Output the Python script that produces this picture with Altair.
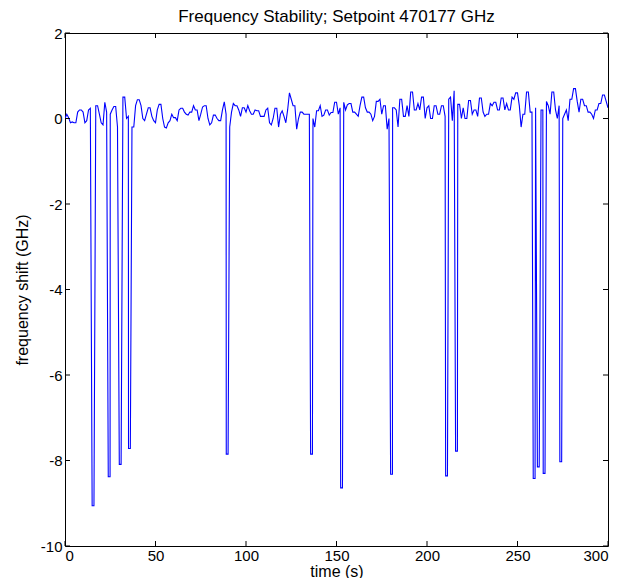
import altair as alt
import pandas as pd

# noise samples at even seconds, t = 0 .. 300
even_t = list(range(0, 301, 2))
even_v = [
    0.0, 0.02, -0.08, -0.1, 0.2, 0.15, -0.05, 0.24, 0.0, 0.3,
    -0.1, 0.38, -0.05, 0.2, 0.28, -0.3, 0.5, 0.0, -0.05, -0.2,
    0.44, 0.3, -0.05, 0.25, 0.05, -0.1, 0.33, 0.0, -0.22, -0.05, 0.02,
    -0.05, 0.24, 0.15, 0.08, 0.15, 0.2, -0.05, 0.27, 0.3, -0.15,
    0.08, 0.0, -0.05, 0.39, -0.3, 0.15, 0.3, 0.2, 0.25, 0.15,
    0.18, 0.1, 0.18, 0.05, 0.05, 0.24, -0.15, 0.24, -0.2, 0.18,
    -0.1, 0.6, 0.3, -0.25, 0.15, 0.1, 0.1, 0.35, -0.2, 0.18,
    0.05, 0.2, 0.08, 0.14, 0.38, 0.25, 0.38, 0.32, 0.35, 0.15,
    0.05, 0.5, 0.25, 0.15, -0.05, 0.4, 0.45, 0.3, -0.25, 0.2,
    0.25, -0.2, 0.45, 0.05, 0.05, 0.62, 0.2, 0.2, 0.5, 0.25,
    0.0, 0.3, 0.1, 0.3, 0.05, 0.45, -0.05, 0.65, 0.33, 0.25,
    0.0, 0.42, 0.2, 0.05, 0.48, 0.05, 0.1, 0.3, 0.38, 0.2,
    0.48, 0.35, 0.2, 0.45, 0.6, -0.2, 0.1, 0.62, 0.15, 0.25,
    0.4, 0.2, 0.4, 0.1, 0.62, 0.0, 0.3, 0.1, -0.05, 0.45,
    0.7, 0.15, 0.45, 0.3, 0.15, 0.0, 0.2, 0.35, 0.55, 0.25,
]

# noise samples at odd seconds, t = 1 .. 299
odd_t = list(range(1, 300, 2))
odd_v = [
    0.1, -0.1, -0.1, 0.15, 0.2, -0.1, 0.2, 0.24, 0.3, 0.1,
    -0.15, 0.15, 0.1, 0.28, -0.2, 0.45, 0.5, 0.05, -0.2, 0.3,
    0.44, 0.0, 0.1, 0.25, -0.05, 0.2, 0.33, -0.2, -0.1, 0.1,
    0.02, 0.2, 0.24, 0.1, 0.15, 0.3, 0.2, 0.1, 0.3, 0.0,
    -0.1, 0.08, -0.05, 0.2, 0.1, -0.2, 0.35, 0.3, 0.05, 0.25,
    0.3, 0.1, 0.2, 0.18, 0.05, 0.2, -0.1, 0.0, 0.24, 0.1,
    0.05, 0.2, 0.45, 0.3, 0.0, 0.15, 0.1, 0.1, 0.0, 0.18,
    0.3, 0.08, 0.2, 0.14, 0.38, 0.1, 0.38, 0.2, 0.35, 0.15,
    0.1, 0.3, 0.5, 0.15, 0.1, 0.05, 0.4, 0.1, 0.3, 0.0,
    0.25, 0.2, 0.45, 0.05, 0.3, 0.62, 0.2, 0.35, 0.5, 0.0,
    0.3, 0.0, 0.3, 0.1, 0.3, 0.45, 0.5, 0.65, 0.33, 0.0,
    0.0, 0.42, 0.1, 0.2, 0.48, 0.15, 0.1, 0.35, 0.38, 0.2,
    0.48, 0.2, 0.2, 0.5, 0.6, 0.3, 0.1, 0.62, 0.15, 0.4,
    0.4, 0.2, 0.4, 0.3, 0.62, 0.2, 0.3, 0.0, 0.2, 0.45,
    0.7, 0.4, 0.45, 0.3, 0.15, 0.1, 0.2, 0.35, 0.55, 0.4,
]

# sudden drop-outs: start time, end time (s) and depth (GHz)
dip_start = [15.0, 23.9, 30.0, 35.1, 89.1, 135.7, 152.3, 179.9, 210.3,
             215.8, 258.7, 261.0, 264.2, 273.4]
dip_end = [16.0, 24.9, 31.0, 36.1, 90.1, 136.7, 153.3, 180.9, 211.3,
           216.8, 259.7, 262.0, 265.2, 274.4]
dip_v = [-9.06, -8.38, -8.09, -7.72, -7.85, -7.85, -8.64, -8.32, -8.36,
         -7.78, -8.42, -8.15, -8.30, -8.03]

x_ticks = [0, 50, 100, 150, 200, 250, 300]
y_ticks = [-10, -8, -6, -4, -2, 0, 2]

noise = pd.concat([
    pd.DataFrame({"t": even_t, "v": even_v}),
    pd.DataFrame({"t": odd_t, "v": odd_v}),
])
# drop noise samples that fall inside a drop-out
inside = pd.Series(False, index=range(len(noise)))
noise = noise.reset_index(drop=True)
for s, e in zip(dip_start, dip_end):
    inside |= (noise["t"] >= s) & (noise["t"] <= e)
noise = noise[~inside]

df = pd.concat([
    noise,
    pd.DataFrame({"t": dip_start, "v": dip_v}),
    pd.DataFrame({"t": dip_end, "v": dip_v}),
]).sort_values("t", kind="stable").reset_index(drop=True)

W, H = 543, 513
FONT = "Liberation Sans"

xscale = alt.Scale(domain=[0, 300], nice=False, zero=False)
yscale = alt.Scale(domain=[-10, 2], nice=False, zero=False)

line = alt.Chart(df).mark_line(
    color="#0000ff", strokeWidth=1.1, clip=True
).encode(
    x=alt.X("t:Q", scale=xscale,
            axis=alt.Axis(values=x_ticks, grid=False, ticks=False, domain=False,
                          labelPadding=2, labelFontSize=15, labelFont=FONT,
                          labelColor="black", title="time (s)", titleFont=FONT,
                          titleFontSize=16, titleFontWeight="normal",
                          titleColor="black", titlePadding=0)),
    y=alt.Y("v:Q", scale=yscale,
            axis=alt.Axis(values=y_ticks, grid=False, ticks=False, domain=False,
                          labelPadding=3, labelFontSize=15, labelFont=FONT,
                          labelColor="black",
                          labelExpr="replace(datum.label, '\u2212', '-')",
                          title="frequency shift (GHz)", titleFont=FONT,
                          titleFontSize=16, titleFontWeight="normal",
                          titleColor="black", titlePadding=10)),
    order="t:Q",
)

xt = pd.DataFrame({"t": x_ticks})
yt = pd.DataFrame({"v": y_ticks})

xb = alt.Chart(xt).mark_rule(color="black", strokeWidth=1).encode(
    x=alt.X("t:Q", scale=xscale), y=alt.value(H), y2=alt.value(H - 5))
xtp = alt.Chart(xt).mark_rule(color="black", strokeWidth=1).encode(
    x=alt.X("t:Q", scale=xscale), y=alt.value(0), y2=alt.value(5))
yl = alt.Chart(yt).mark_rule(color="black", strokeWidth=1).encode(
    y=alt.Y("v:Q", scale=yscale), x=alt.value(0), x2=alt.value(5))
yr = alt.Chart(yt).mark_rule(color="black", strokeWidth=1).encode(
    y=alt.Y("v:Q", scale=yscale), x=alt.value(W), x2=alt.value(W - 5))

chart = alt.layer(line, xb, xtp, yl, yr).properties(
    width=W, height=H,
    title=alt.TitleParams("Frequency Stability; Setpoint 470177 GHz",
                          font=FONT, fontSize=17, fontWeight="normal",
                          color="black", offset=0),
    autosize=alt.AutoSizeParams(type="none"),
    padding={"left": 57, "top": 25, "right": 16, "bottom": 32},
).configure(
    background="white",
    view=alt.ViewConfig(stroke="black", strokeWidth=1),
)

chart.save("out.html", embed_options={"renderer": "svg", "actions": False})
